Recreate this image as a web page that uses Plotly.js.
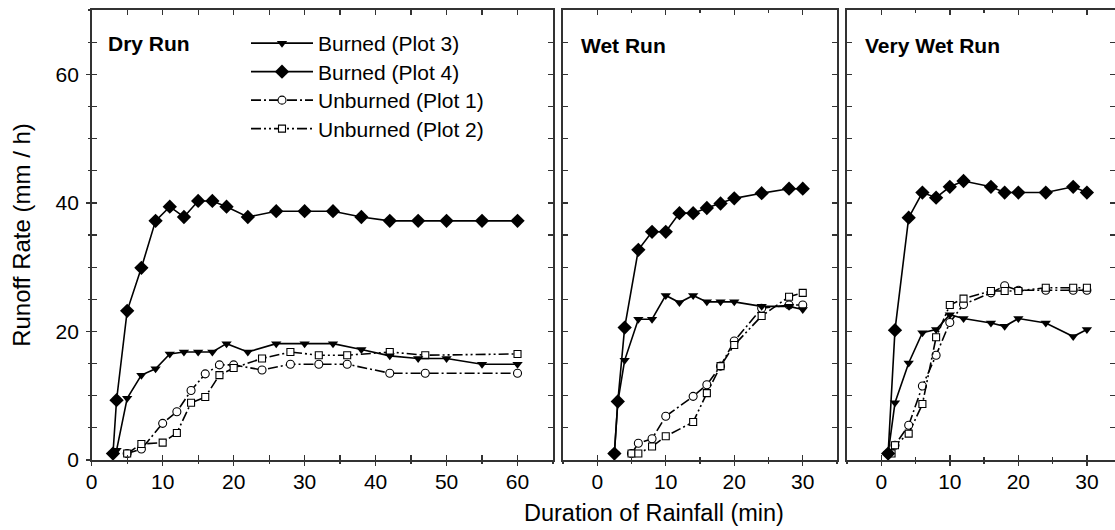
<!DOCTYPE html>
<html><head><meta charset="utf-8">
<script src="https://cdn.plot.ly/plotly-3.0.1.min.js"></script>
<style>html,body{margin:0;padding:0;background:#fff}</style>
</head><body><div id="chart" style="width:1115px;height:530px"></div>
<script>
// ---------- data ----------
const seriesNames = ['Burned (Plot 3)', 'Burned (Plot 4)', 'Unburned (Plot 1)', 'Unburned (Plot 2)'];
const panelTitles = ['Dry Run', 'Wet Run', 'Very Wet Run'];

// Dry run
const dryP3x = [3.5,5,7,9,11,13,15,17,19,22,26,30,34,38,42,46,50,55,60];
const dryP3y = [1.5,9.6,13.2,14.2,16.5,16.8,16.8,16.8,18.1,16.8,18.1,18.1,18.1,17.2,16.2,15.8,15.8,14.9,14.9];
const dryP4x = [3,3.5,5,7,9,11,13,15,17,19,22,26,30,34,38,42,46,50,55,60];
const dryP4y = [1,9.3,23.2,29.9,37.2,39.4,37.8,40.3,40.3,39.4,37.8,38.7,38.7,38.7,37.8,37.2,37.2,37.2,37.2,37.2];
const dryP1x = [5,7,10,12,14,16,18,20,24,28,32,36,42,47,60];
const dryP1y = [1,1.7,5.7,7.5,10.8,13.4,14.8,14.8,14.0,14.9,14.9,14.9,13.5,13.5,13.5];
const dryP2x = [5,7,10,12,14,16,18,20,24,28,32,36,42,47,60];
const dryP2y = [1,2.5,2.7,4.2,8.9,9.8,13.2,14.3,15.8,16.8,16.3,16.3,16.8,16.3,16.5];

// Wet run
const wetP3x = [2.5,3,4,6,8,10,12,14,16,18,20,24,28,30];
const wetP3y = [1,9,15.5,21.9,21.9,25.6,24.5,25.6,24.6,24.6,24.6,23.9,23.9,23.4];
const wetP4x = [2.5,3,4,6,8,10,12,14,16,18,20,24,28,30];
const wetP4y = [1,9.1,20.6,32.7,35.5,35.5,38.4,38.4,39.2,39.9,40.7,41.5,42.2,42.2];
const wetP1x = [5,6,8,10,14,16,18,20,24,28,30];
const wetP1y = [1,2.6,3.3,6.8,9.9,11.7,14.6,18.5,23.6,24.1,24.1];
const wetP2x = [5,6,8,10,14,16,18,20,24,28,30];
const wetP2y = [1,1,2.1,3.7,5.9,10.4,14.6,17.9,22.4,25.4,26.0];

// Very wet run
const vwetP3x = [1,2,4,6,8,10,12,16,18,20,24,28,30];
const vwetP3y = [1,8.9,15.1,19.8,20.3,22.6,22.0,21.3,20.8,22.0,21.3,19.2,20.3];
const vwetP4x = [1,2,4,6,8,10,12,16,18,20,24,28,30];
const vwetP4y = [1,20.2,37.7,41.6,40.8,42.5,43.4,42.5,41.6,41.6,41.6,42.5,41.6];
const vwetP1x = [1,2,4,6,8,10,12,16,18,20,24,28,30];
const vwetP1y = [1,2.3,5.4,11.5,16.3,21.4,24.2,26.0,27.1,26.4,26.4,26.4,26.4];
const vwetP2x = [1.5,2,4,6,8,10,12,16,18,20,24,28,30];
const vwetP2y = [1,2.3,4.1,8.7,19.1,24.1,25.1,26.3,26.3,26.3,26.8,26.8,26.8];

const xTickVals1 = [0,10,20,30,40,50,60];
const xTickVals2 = [0,10,20,30];
const yTickVals = [0,20,40,60];

// ---------- styling ----------
const FONT = 'Liberation Sans, Arial, Helvetica, sans-serif';
const AX = '#333';
const W = 1115;
const styles = [
  {marker:{symbol:'triangle-down', size:9, color:'#000'}, line:{color:'#000', width:1.6}},
  {marker:{symbol:'diamond', size:11, color:'#000'}, line:{color:'#000', width:1.6}},
  {marker:{symbol:'circle', size:8, color:'#fff', line:{color:'#000', width:1.1}}, line:{color:'#000', width:1.6, dash:'10px,3px,2px,3px'}},
  {marker:{symbol:'square', size:7, color:'#fff', line:{color:'#000', width:1.1}}, line:{color:'#000', width:1.6, dash:'10px,3px,2px,3px,2px,3px'}}
];
const legendIds = ['legend', 'legend2', 'legend3', 'legend4'];
const panels = [
  {xa:'x', ya:'y', data:[[dryP3x,dryP3y],[dryP4x,dryP4y],[dryP1x,dryP1y],[dryP2x,dryP2y]]},
  {xa:'x2', ya:'y2', data:[[wetP3x,wetP3y],[wetP4x,wetP4y],[wetP1x,wetP1y],[wetP2x,wetP2y]]},
  {xa:'x3', ya:'y3', data:[[vwetP3x,vwetP3y],[vwetP4x,vwetP4y],[vwetP1x,vwetP1y],[vwetP2x,vwetP2y]]}
];
const traces = [];
const order = [2,3,0,1];
panels.forEach((p, pi) => {
  order.forEach(si => {
    traces.push({
      type:'scatter', mode:'lines+markers',
      x:p.data[si][0], y:p.data[si][1],
      xaxis:p.xa, yaxis:p.ya,
      name:seriesNames[si], legend:legendIds[si],
      showlegend: pi===0,
      marker:styles[si].marker, line:styles[si].line,
      hoverinfo:'x+y'
    });
  });
});
[['x4','y'],['x5','y2'],['x6','y3'],['x','y4']].forEach(a => traces.push({x:[],y:[],xaxis:a[0],yaxis:a[1],showlegend:false,hoverinfo:'skip',type:'scatter'}));

const d1 = [91.7/W, 553/W], d2 = [563/W, 837/W], d3 = [847/W, 1];
const r1 = [0,65], r2 = [-5,35], r3 = [-5,34.1];
function mainX(dom, range, tv, anchor){
  return {domain:dom, range:range, anchor:anchor, tickvals:tv, ticktext:tv.map(String),
    ticks:'inside', ticklen:5, tickwidth:1.4, tickcolor:AX, mirror:'allticks',
    showline:true, linecolor:AX, linewidth:1.6, showgrid:false, zeroline:false,
    minor:{dtick:5, tick0:0, ticks:'inside', ticklen:3, tickwidth:1.2, tickcolor:AX},
    tickfont:{family:FONT, size:21, color:'#000'}, ticklabelstandoff:2, fixedrange:true};
}
function overX(over, range, anchor){
  return {overlaying:over, anchor:anchor, side:'bottom', range:range, dtick:10, tick0:0,
    ticks:'outside', ticklen:5, tickwidth:1.4, tickcolor:AX, showticklabels:false,
    showline:false, showgrid:false, zeroline:false,
    minor:{dtick:5, tick0:0, ticks:'outside', ticklen:3, tickwidth:1.2, tickcolor:AX}, fixedrange:true};
}
function mainY(anchor, labels){
  return {domain:[0,1], range:[0,70], anchor:anchor, tickvals:yTickVals, ticktext:yTickVals.map(String),
    showticklabels:labels, ticks:'inside', ticklen:5, tickwidth:1.4, tickcolor:AX, mirror:'allticks',
    showline:true, linecolor:AX, linewidth:1.6, showgrid:false, zeroline:false,
    minor:{dtick:5, tick0:0, ticks:'inside', ticklen:3, tickwidth:1.2, tickcolor:AX},
    tickfont:{family:FONT, size:21, color:'#000'}, ticklabelstandoff:7, fixedrange:true};
}
const yMain = mainY('x', true);
yMain.title = {text:'Runoff Rate (mm / h)', font:{family:FONT, size:24, color:'#000'}, standoff:18};

function legendAt(rowCenterPx){
  return {x:246/W, y:(460-rowCenterPx)/450, xanchor:'left', yanchor:'middle', bgcolor:'rgba(0,0,0,0)',
    borderwidth:0, font:{family:FONT, size:21, color:'#000'}, itemwidth:62};
}

const layout = {
  width:1115, height:530,
  margin:{l:0, r:0, t:10, b:70},
  paper_bgcolor:'#fff', plot_bgcolor:'#fff',
  font:{family:FONT, color:'#000'},
  showlegend:true,
  legend:legendAt(43.5),
  legend2:legendAt(72),
  legend3:legendAt(100.5),
  legend4:legendAt(129),
  xaxis:mainX(d1, r1, xTickVals1, 'y'),
  xaxis2:mainX(d2, r2, xTickVals2, 'y2'),
  xaxis3:mainX(d3, r3, xTickVals2, 'y3'),
  xaxis4:overX('x', r1, 'y'),
  xaxis5:overX('x2', r2, 'y2'),
  xaxis6:overX('x3', r3, 'y3'),
  yaxis:yMain,
  yaxis2:mainY('x2', false),
  yaxis3:mainY('x3', false),
  yaxis4:{overlaying:'y', anchor:'x', side:'left', range:[0,70], dtick:20, tick0:0,
    ticks:'outside', ticklen:5, tickwidth:1.4, tickcolor:AX, showticklabels:false,
    showline:false, showgrid:false, zeroline:false,
    minor:{dtick:5, tick0:0, ticks:'outside', ticklen:3, tickwidth:1.2, tickcolor:AX}, fixedrange:true},
  annotations:[
    {text:'<b>'+panelTitles[0]+'</b>', xref:'x domain', yref:'y domain', x:0, y:1, xanchor:'left', yanchor:'middle', xshift:14, yshift:-33, showarrow:false, font:{family:FONT, size:21, color:'#000'}},
    {text:'<b>'+panelTitles[1]+'</b>', xref:'x2 domain', yref:'y2 domain', x:0, y:1, xanchor:'left', yanchor:'middle', xshift:16, yshift:-35, showarrow:false, font:{family:FONT, size:21, color:'#000'}},
    {text:'<b>'+panelTitles[2]+'</b>', xref:'x3 domain', yref:'y3 domain', x:0, y:1, xanchor:'left', yanchor:'middle', xshift:16, yshift:-35, showarrow:false, font:{family:FONT, size:21, color:'#000'}},
    {text:'Duration of Rainfall (min)', xref:'paper', yref:'paper', x:654/W, y:(460-513)/450, xanchor:'center', yanchor:'middle', showarrow:false, font:{family:FONT, size:23.5, color:'#000'}}
  ]
};
Plotly.newPlot('chart', traces, layout, {displayModeBar:false, staticPlot:true});
</script></body></html>
